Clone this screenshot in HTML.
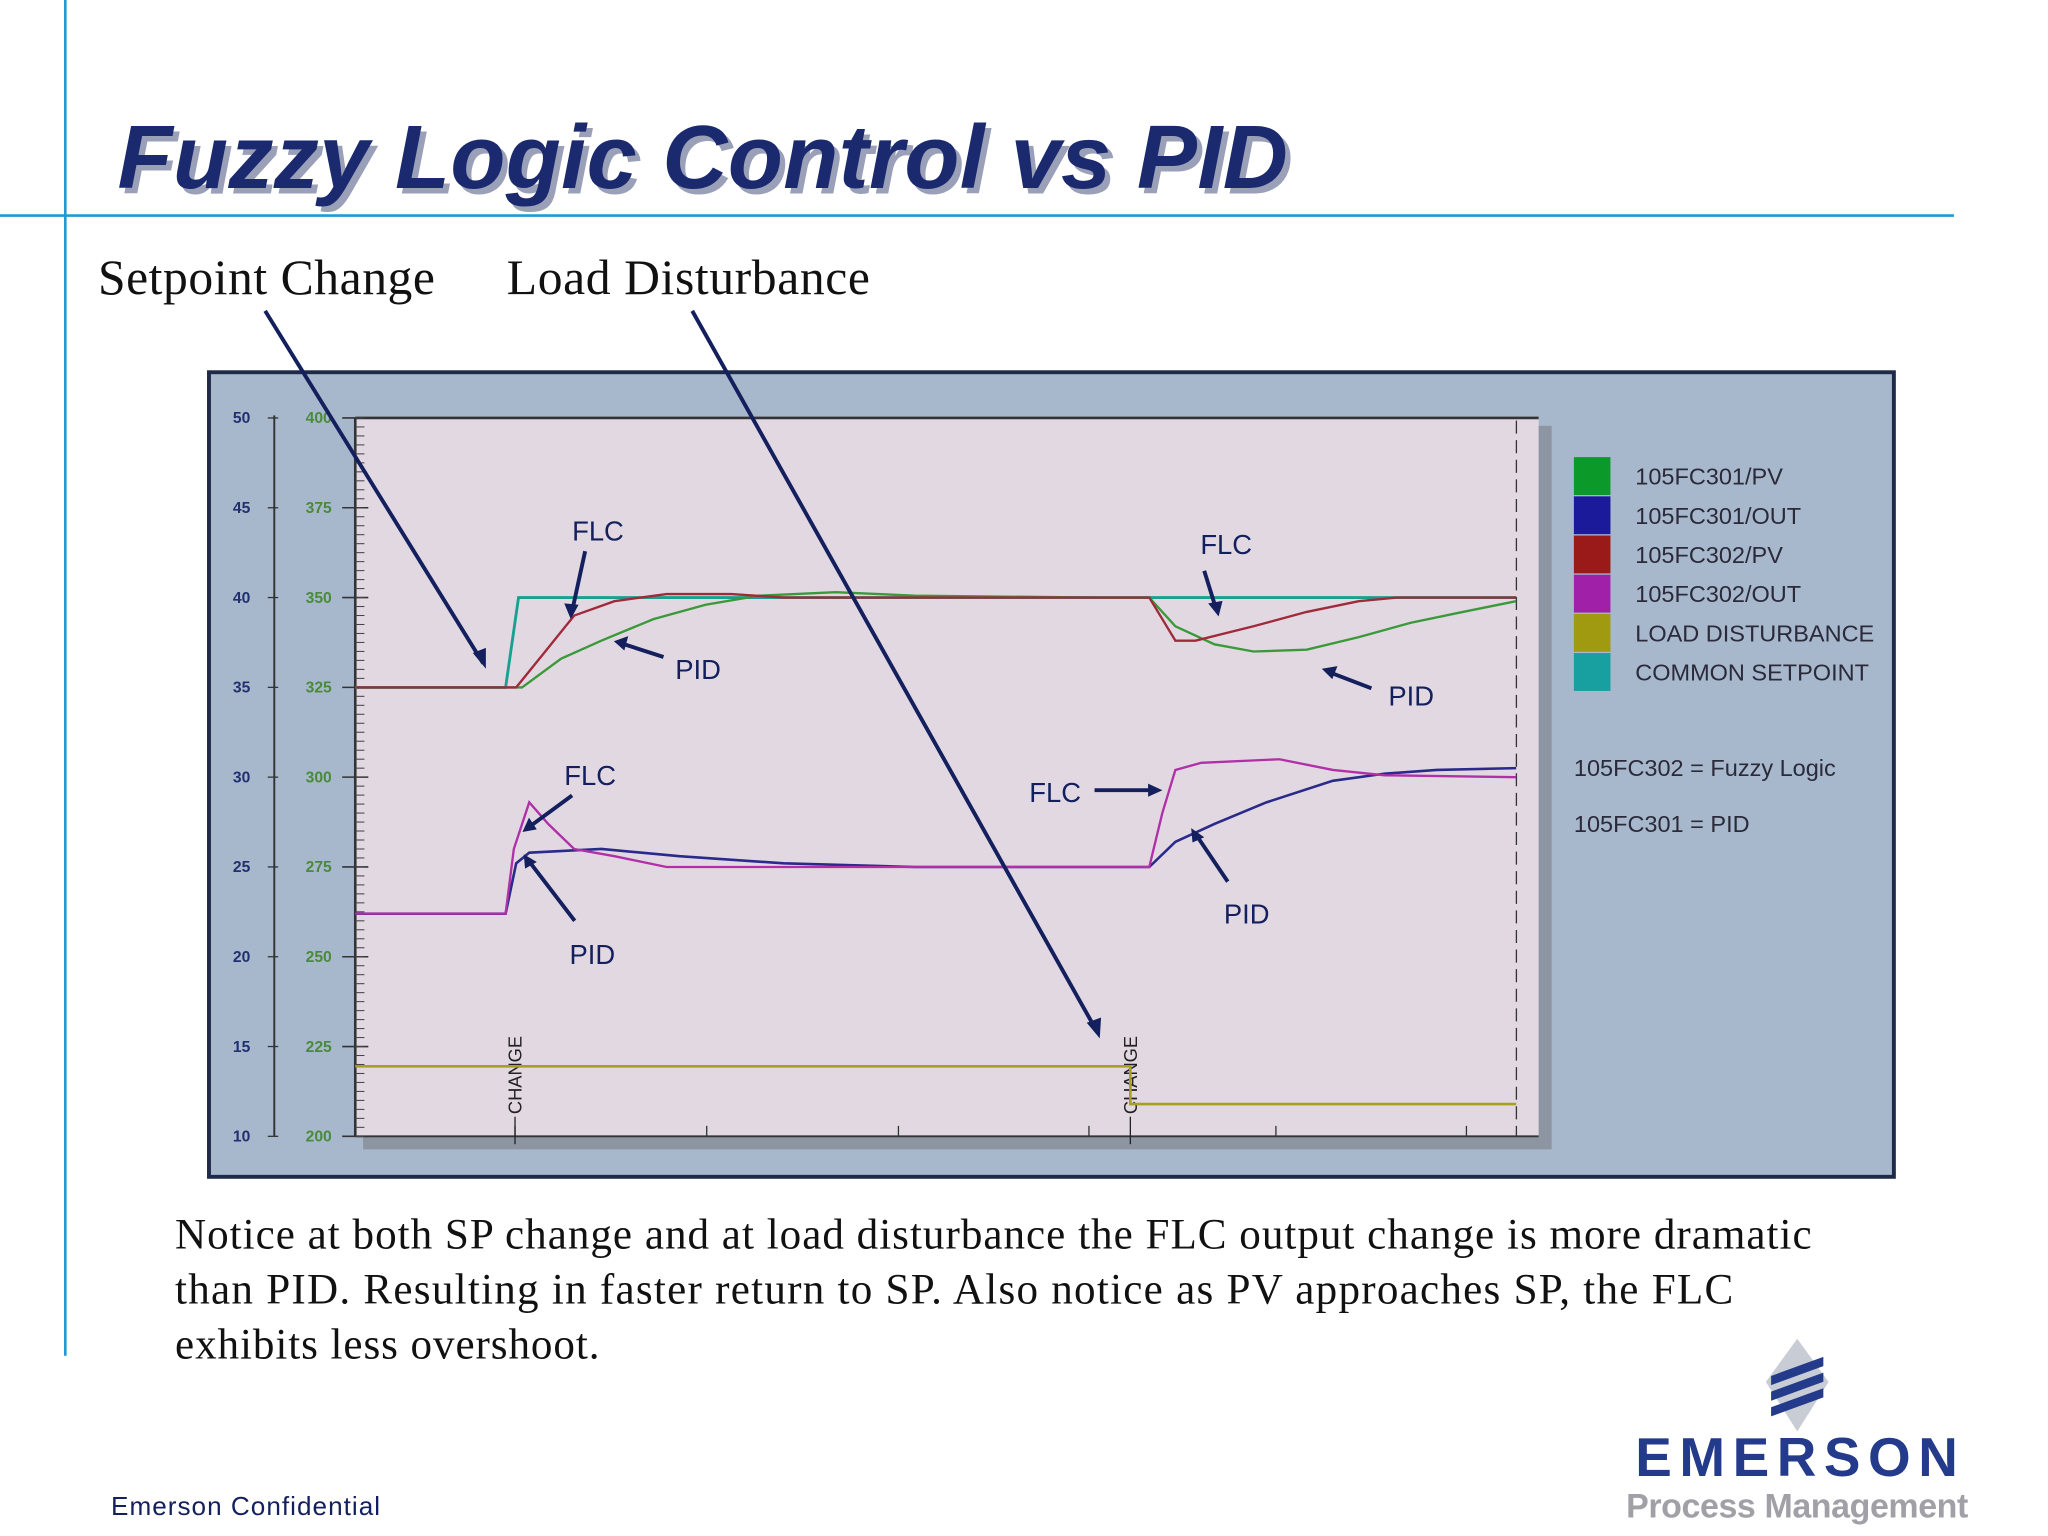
<!DOCTYPE html>
<html><head><meta charset="utf-8">
<style>
html,body{margin:0;padding:0;background:#fff;}
svg{display:block;}
</style></head>
<body>
<svg id="slide" width="2048" height="1536" viewBox="0 0 1568 1176" xmlns="http://www.w3.org/2000/svg">
  <rect x="0" y="0" width="1568" height="1176" fill="#ffffff"/>
  <line x1="50" y1="0" x2="50" y2="1038" stroke="#1e9ad6" stroke-width="2"/>
  <line x1="0" y1="165" x2="1496" y2="165" stroke="#1e9ad6" stroke-width="2"/>
  <text x="94" y="148" font-family="Liberation Sans, sans-serif" font-size="69" font-weight="bold" font-style="italic" fill="#9aa0b8" textLength="896">Fuzzy Logic Control vs PID</text>
  <text x="90" y="144" font-family="Liberation Sans, sans-serif" font-size="69" font-weight="bold" font-style="italic" fill="#1b2a6e" textLength="896">Fuzzy Logic Control vs PID</text>
  <text x="75" y="225" font-family="Liberation Serif, serif" font-size="38" fill="#111" textLength="258">Setpoint Change</text>
  <text x="388" y="225" font-family="Liberation Serif, serif" font-size="38" fill="#111" textLength="278">Load Disturbance</text>

  <rect x="160" y="285" width="1290" height="616" fill="#a8b8cc" stroke="#1e2a48" stroke-width="3"/>
  <rect x="278" y="326" width="910" height="554" fill="#8d95a3"/>
  <rect x="272" y="320" width="906" height="550" fill="#e2d8e2"/>
  <line x1="272" y1="320" x2="1178" y2="320" stroke="#333" stroke-width="2"/>
  <line x1="272" y1="320" x2="272" y2="870" stroke="#333" stroke-width="2"/>
  <line x1="272" y1="870" x2="1178" y2="870" stroke="#333" stroke-width="1.5"/>
  <line x1="210" y1="318" x2="210" y2="870" stroke="#333" stroke-width="1.5"/>
  <line x1="1161" y1="322" x2="1161" y2="870" stroke="#333" stroke-width="1" stroke-dasharray="10,5"/>
  <g id="axes"></g>
  <g id="series"></g>

  <g font-family="Liberation Sans, sans-serif" font-size="18" fill="#2a2a3a">
    <rect x="1205" y="350" width="28" height="29" fill="#0b9a2a"/><text x="1252" y="371">105FC301/PV</text>
    <rect x="1205" y="380" width="28" height="29" fill="#1a1a9a"/><text x="1252" y="401">105FC301/OUT</text>
    <rect x="1205" y="410" width="28" height="29" fill="#9a1a1a"/><text x="1252" y="431">105FC302/PV</text>
    <rect x="1205" y="440" width="28" height="29" fill="#a020a8"/><text x="1252" y="461">105FC302/OUT</text>
    <rect x="1205" y="470" width="28" height="29" fill="#a09a10"/><text x="1252" y="491">LOAD DISTURBANCE</text>
    <rect x="1205" y="500" width="28" height="29" fill="#18a0a0"/><text x="1252" y="521">COMMON SETPOINT</text>
    <text x="1205" y="594">105FC302 = Fuzzy Logic</text>
    <text x="1205" y="637">105FC301 = PID</text>
  </g>

  <g stroke="#14205e" stroke-width="3" fill="none">
    <line x1="203" y1="238" x2="370" y2="508"/>
    <line x1="530" y1="238" x2="840" y2="790"/>
    <line x1="448" y1="422" x2="438" y2="468"/>
    <line x1="508" y1="503" x2="474" y2="492"/>
    <line x1="922" y1="437" x2="931" y2="466"/>
    <line x1="1050" y1="527" x2="1016" y2="514"/>
    <line x1="438" y1="609" x2="404" y2="634"/>
    <line x1="440" y1="705" x2="404" y2="658"/>
    <line x1="838" y1="605" x2="884" y2="605"/>
    <line x1="940" y1="675" x2="915" y2="638"/>
  </g>
  <g fill="#14205e">
    <polygon points="372,512 362,500 372,496"/>
    <polygon points="842,795 832,783 843,779"/>
    <polygon points="437,474 432,462 443,463"/>
    <polygon points="470,491 481,487 478,498"/>
    <polygon points="933,472 925,462 936,460"/>
    <polygon points="1012,512 1024,510 1020,520"/>
    <polygon points="400,637 405,626 411,635"/>
    <polygon points="401,654 411,660 402,665"/>
    <polygon points="890,605 879,600 879,610"/>
    <polygon points="912,634 922,641 913,645"/>
  </g>
  <g font-family="Liberation Sans, sans-serif" font-size="21" fill="#14205e">
    <text x="438" y="414">FLC</text><text x="517" y="520">PID</text>
    <text x="919" y="424">FLC</text><text x="1063" y="540">PID</text>
    <text x="432" y="601">FLC</text><text x="436" y="738">PID</text>
    <text x="788" y="614">FLC</text><text x="937" y="707">PID</text>
  </g>

  <g font-family="Liberation Serif, serif" font-size="33" fill="#111">
    <text x="134" y="956" textLength="1253">Notice at both SP change and at load disturbance the FLC output change is more dramatic</text>
    <text x="134" y="998" textLength="1193">than PID.  Resulting in faster return to SP.  Also notice as PV approaches SP, the FLC</text>
    <text x="134" y="1040" textLength="325">exhibits less overshoot.</text>
  </g>
  <text x="85" y="1160" font-family="Liberation Sans, sans-serif" font-size="20" fill="#14205e" textLength="206">Emerson Confidential</text>

  <g>
    <polygon points="1376,1025 1400,1058 1376,1096 1352,1058" fill="#c8ccd4"/>
    <rect x="1356" y="1047" width="40" height="7" fill="#243a8a" transform="skewY(-20) translate(0,500)"/>
    <rect x="1356" y="1059" width="40" height="7" fill="#243a8a" transform="skewY(-20) translate(0,500)"/>
    <rect x="1356" y="1071" width="40" height="7" fill="#243a8a" transform="skewY(-20) translate(0,500)"/>
    <text x="1252" y="1130" font-family="Liberation Sans, sans-serif" font-size="42" font-weight="bold" fill="#243a8a" textLength="247">EMERSON</text>
    <text x="1245" y="1162" font-family="Liberation Sans, sans-serif" font-size="26" font-weight="bold" fill="#a0a0a6" textLength="262">Process Management</text>
  </g>
</svg>
<script>
// ---- chart data (right-axis units, time 0..100) ----
const leftTicks = [50,45,40,35,30,25,20,15,10];
const rightTicks = [400,375,350,325,300,275,250,225,200];
const timeTicks = [13.5,29.7,45.9,62,77.8,93.9];
const changeTimes = [13.5,65.5];

const spT = [0,12.7,13.8,98.1];
const spV = [325,325,350,350];

const flcPvT = [0,13.6,16.3,18.5,21.9,26.3,31.8,36.2,67.1,69.3,71,75.9,80.4,84.8,88,98.1];
const flcPvV = [325,325,336,345,349,351,351,350,350,338,338,342,346,349,350,350];

const pidPvT = [0,14.1,17.4,20.8,25.2,29.6,34.1,40.6,47.3,62.7,67.1,69.3,72.6,75.9,80.4,84.8,89.2,93.6,98.1];
const pidPvV = [325,325,333,338,344,348,350.5,351.5,350.5,350,350,342,337,335,335.5,339,343,346,349];

const flcOutT = [0,12.7,13.4,14.7,16.3,18.5,21.9,26.3,67.1,68.2,69.3,71.5,78.1,82.6,87,98.1];
const flcOutV = [262,262,280,293,287,280,278,275,275,290,302,304,305,302,300.5,300];

const pidOutT = [0,12.7,13.6,14.7,20.8,27.4,36.2,47.3,67.1,69.3,72.6,77,82.6,87,91.4,98.1];
const pidOutV = [262,262,276,279,280,278,276,275,275,282,287,293,299,301,302,302.5];

const loadT = [0,65.5,65.5,98.1];
const loadV = [219.5,219.5,209,209];

// ---- axis functions ----
const X0=272, X1=1178, Y0=870, Y1=320;
function xS(t){ return X0 + t*(X1-X0)/100; }
function yR(v){ return Y0 - (v-200)*(Y0-Y1)/200; }
function yL(v){ return Y0 - (v-10)*(Y0-Y1)/40; }
const NS="http://www.w3.org/2000/svg";
function mk(tag, attrs, parent){ const e=document.createElementNS(NS,tag); for(const k in attrs) e.setAttribute(k,attrs[k]); parent.appendChild(e); return e; }

const axes=document.getElementById('axes');
leftTicks.forEach((v,i)=>{
  const y=yL(v);
  const t=mk('text',{x:185,y:y+4,'font-family':'Liberation Sans, sans-serif','font-size':12,'font-weight':'bold',fill:'#203070','text-anchor':'middle'},axes);
  t.textContent=v;
  
  
  mk('line',{x1:205,y1:y,x2:213,y2:y,stroke:'#333','stroke-width':1},axes);
  const r=mk('text',{x:244,y:yR(rightTicks[i])+4,'font-family':'Liberation Sans, sans-serif','font-size':12,'font-weight':'bold',fill:'#4a8a3a','text-anchor':'middle'},axes);
  r.textContent=rightTicks[i];
  
  
  mk('line',{x1:262,y1:y,x2:282,y2:y,stroke:'#333','stroke-width':1.2},axes);
});
for(let k=0;k<=80;k++){
  const y=Y1+k*(Y0-Y1)/80;
  mk('line',{x1:272,y1:y,x2:279,y2:y,stroke:'#444','stroke-width':0.8},axes);
}
timeTicks.forEach(t=>{
  const l=mk('line',{x1:xS(t),y1:862,x2:xS(t),y2:870,stroke:'#333','stroke-width':1},axes);
  
  
});
changeTimes.forEach(t=>{
  const x=xS(t);
  mk('line',{x1:x,y1:855,x2:x,y2:876,stroke:'#222','stroke-width':1},axes);
  const c=mk('text',{x:0,y:0,transform:`translate(${x+5},853) rotate(-90)`,'font-family':'Liberation Sans, sans-serif','font-size':14,fill:'#222'},axes);
  c.textContent='CHANGE';
  
  
});

const series=document.getElementById('series');
function line(T,V,color,name,w){
  const d=T.map((t,i)=>(i?'L':'M')+xS(t).toFixed(1)+','+yR(V[i]).toFixed(1)).join(' ');
  const p=mk('path',{d:d,fill:'none',stroke:color,'stroke-width':w||1.8},series);
  
  
}
line(loadT,loadV,'#a8a020','load-disturbance-line',2);
line(spT,spV,'#18a090','setpoint-line',2.2);
line(pidPvT,pidPvV,'#3a9a3a','pid-pv-line');
line(flcPvT,flcPvV,'#a02a3a','flc-pv-line');
line(pidOutT,pidOutV,'#2a2a8a','pid-out-line',2);
line(flcOutT,flcOutV,'#b030a8','flc-out-line');
</script>
</body></html>
